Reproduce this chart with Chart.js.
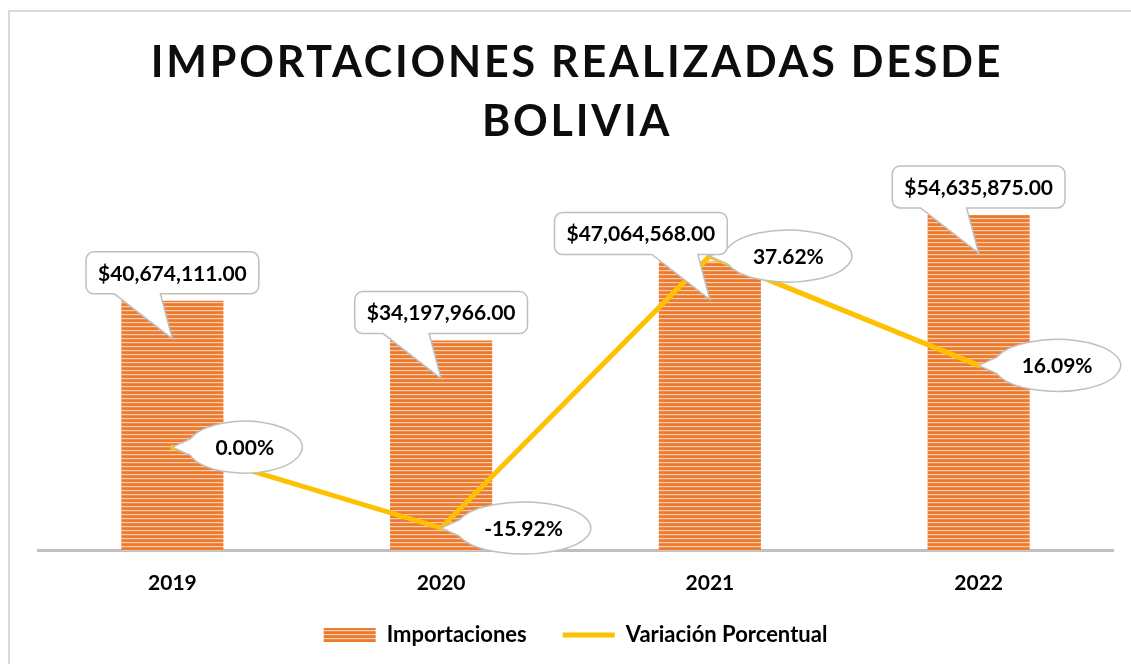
<!DOCTYPE html>
<html>
<head>
<meta charset="utf-8">
<script src="https://cdn.jsdelivr.net/npm/chart.js@4"></script>
<style>
  body { margin: 0; overflow: hidden; background: #fff; }
  .frame { position: absolute; left: 8px; top: 10px; width: 1130px; height: 660px; border: 2px solid #d9d9d9; }
  canvas { display: block; }
</style>
</head>
<body>
<div class="frame"><canvas id="importChart" width="1130" height="652"></canvas></div>
<script>
const years = ['2019', '2020', '2021', '2022'];
const importaciones = [40674111, 34197966, 47064568, 54635875];
const variacion = [0.00, -15.92, 37.62, 16.09];
const titleLines = ['IMPORTACIONES REALIZADAS DESDE', 'BOLIVIA'];

const FONT = 'Lato, "Open Sans", sans-serif';
const boxShift = [0, 0, -69, 0]; // manual nudge of the value boxes
const LEGEND_LIFT = 28;

// striped orange fill like the Excel pattern
function stripes() {
  const c = document.createElement('canvas');
  c.width = 4; c.height = 4;
  const g = c.getContext('2d');
  const rows = ['#ec7a2e', '#ed7d31', '#f8cdb0', '#f08846'];
  rows.forEach((col, i) => { g.fillStyle = col; g.fillRect(0, i, 4, 1); });
  return g.createPattern(c, 'repeat');
}

const money = v => '$' + v.toLocaleString('en-US', { minimumFractionDigits: 2, maximumFractionDigits: 2 });
const pct = v => v.toFixed(2) + '%';

const titlePlugin = {
  id: 'bigTitle',
  afterDraw(chart) {
    const ctx = chart.ctx;
    ctx.save();
    ctx.fillStyle = '#0d0d0d';
    ctx.font = 'bold 43px ' + FONT;
    ctx.letterSpacing = '2.8px';
    ctx.textAlign = 'center';
    ctx.textBaseline = 'alphabetic';
    const cx = chart.width / 2;
    ctx.fillText(titleLines[0], cx + 2, 65);
    ctx.fillText(titleLines[1], cx + 2, 124);
    ctx.restore();
  }
};

// legend keeps its wide item spacing but takes less room above the items
const legendTrim = {
  id: 'legendTrim',
  beforeInit(chart) {
    const fit = chart.legend.fit;
    chart.legend.fit = function() {
      fit.call(this);
      this.height -= LEGEND_LIFT;
    };
  },
  afterLayout(chart) {
    chart.legend.top -= LEGEND_LIFT;
  }
};

const calloutPlugin = {
  id: 'callouts',
  afterDatasetsDraw(chart) {
    const ctx = chart.ctx;
    ctx.save();
    ctx.font = 'bold 21px ' + FONT;
    ctx.textAlign = 'center';
    ctx.textBaseline = 'middle';
    ctx.lineWidth = 1.5;
    ctx.strokeStyle = '#bfbfbf';

    // ellipse callouts for the line
    chart.getDatasetMeta(1).data.forEach((pt, i) => {
      const txt = pct(variacion[i]);
      const rx = ctx.measureText(txt).width / 2 + 28;
      const ry = 26;
      const cx = pt.x + 15 + rx, cy = pt.y;
      ctx.beginPath();
      ctx.ellipse(cx, cy, rx, ry, 0, Math.PI + 0.32, Math.PI - 0.32);
      ctx.lineTo(pt.x, pt.y);
      ctx.closePath();
      ctx.fillStyle = '#fff';
      ctx.fill();
      ctx.stroke();
      ctx.fillStyle = '#000';
      ctx.fillText(txt, cx, cy + 1);
    });

    // rounded-rect callouts for the bars
    chart.getDatasetMeta(0).data.forEach((bar, i) => {
      const txt = money(importaciones[i]);
      const w = ctx.measureText(txt).width + 24;
      const h = 42;
      const left = bar.x - w / 2 + boxShift[i];
      const bottom = bar.y - 7;
      const top = bottom - h;
      const tipX = bar.x, tipY = bar.y + 38;
      const b1 = Math.max(left + 12, tipX - 58);
      const b2 = Math.min(left + w - 14, tipX - 12);
      ctx.beginPath();
      ctx.moveTo(b2, bottom);
      ctx.lineTo(tipX, tipY);
      ctx.lineTo(b1, bottom);
      ctx.arcTo(left, bottom, left, top, 8);
      ctx.arcTo(left, top, left + w, top, 8);
      ctx.arcTo(left + w, top, left + w, bottom, 8);
      ctx.arcTo(left + w, bottom, b2, bottom, 8);
      ctx.closePath();
      ctx.fillStyle = '#fff';
      ctx.fill();
      ctx.stroke();
      ctx.fillStyle = '#000';
      ctx.fillText(txt, left + w / 2, top + h / 2 + 1);
    });
    ctx.restore();
  }
};

const ctx = document.getElementById('importChart').getContext('2d');
const chart = new Chart(ctx, {
  type: 'bar',
  data: {
    labels: years,
    datasets: [{
      label: 'Importaciones',
      data: importaciones,
      backgroundColor: stripes(),
      borderWidth: 0,
      pointStyle: 'rect',
      yAxisID: 'y',
      barPercentage: 0.38,
      categoryPercentage: 1,
      order: 2
    }, {
      type: 'line',
      label: 'Variación Porcentual',
      data: variacion,
      borderColor: '#ffc000',
      backgroundColor: '#ffc000',
      borderWidth: 5,
      borderCapStyle: 'round',
      pointStyle: 'line',
      pointRadius: 0,
      tension: 0,
      yAxisID: 'y1',
      order: 1
    }]
  },
  options: {
    responsive: false,
    animation: false,
    layout: { padding: { top: 170, left: 28, right: 27, bottom: 8 } },
    plugins: {
      title: { display: false },
      tooltip: { enabled: false },
      legend: {
        position: 'bottom',
        labels: {
          usePointStyle: true,
          pointStyleWidth: 52,
          boxHeight: 14,
          padding: 36,
          color: '#000',
          font: { family: FONT, size: 22, weight: 'bold' },
          sort: (a, b) => a.datasetIndex - b.datasetIndex
        }
      }
    },
    scales: {
      x: {
        grid: { display: false, drawTicks: false },
        border: { display: true, color: '#bfbfbf', width: 3 },
        ticks: { color: '#000', padding: 20, font: { family: FONT, size: 21, weight: 'bold' } }
      },
      y: { display: false, min: 0, max: 60000000 },
      y1: { display: false, min: -20.4, max: 52.2 }
    }
  },
  plugins: [legendTrim, calloutPlugin, titlePlugin]
});
</script>
</body>
</html>
